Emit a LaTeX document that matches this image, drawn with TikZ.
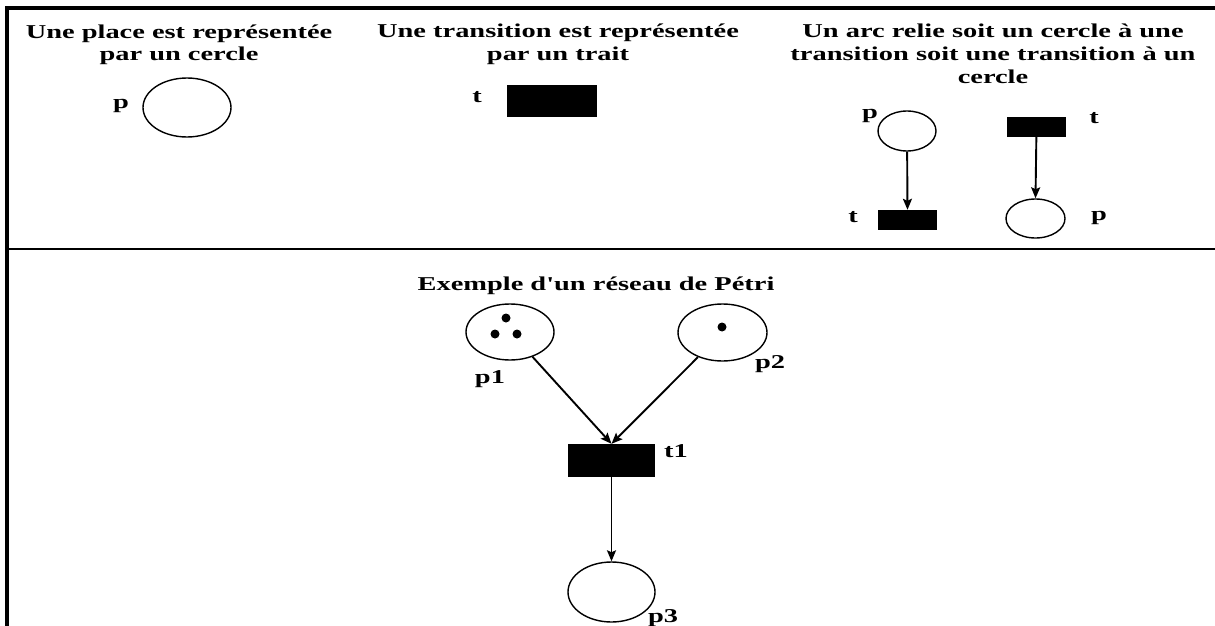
\documentclass[tikz,border=0pt]{standalone}
\usepackage{fontspec}
\newfontfamily\tfont{Liberation Serif}[FakeStretch=1.45]
\usetikzlibrary{shapes.geometric,arrows.meta}
\begin{document}
\begin{tikzpicture}[x=1pt,y=-1pt,
  txt/.style={font=\tfont\bfseries\fontsize{19.6}{22.5}\selectfont,inner sep=0pt,align=center,anchor=base},
  lbl/.style={font=\tfont\bfseries\fontsize{19.6}{22.5}\selectfont,inner sep=0pt,anchor=base},
  place/.style={draw,line width=1.4pt,ellipse,inner sep=0pt},
  trans/.style={fill=black,draw=none,rectangle,inner sep=0pt},
  token/.style={fill=black,circle,inner sep=0pt,minimum size=9pt},
  arr/.style={line width=1.9pt,-{Stealth[length=11pt,width=9pt,inset=2pt]}},
  frame/.style={line width=3.2pt}]
\useasboundingbox (0,0) rectangle (1215,626);
% frame
\draw[frame] (7,626) -- (7,8) -- (1215,8);
\draw[line width=2.2pt] (7,249) -- (1215,249);
% titles (base = last line)
\node[txt] (h1) at (179,61) {Une place est représentée\\par un cercle};
\node[txt] (h2) at (558,60) {Une transition est représentée\\par un trait};
\node[txt] (h3) at (993,83) {Un arc relie soit un cercle à une\\transition soit une transition à un\\cercle};
% panel 1
\node[place,minimum width=88pt,minimum height=59pt] (P) at (187,107.5) {};
\node[lbl] (Pl) at (121,108) {p};
% panel 2
\node[trans,minimum width=90pt,minimum height=32pt] (T) at (552,101) {};
\node[lbl] (Tl) at (477,102) {t};
% panel 3
\node[place,minimum width=58pt,minimum height=40pt] (P3a) at (907,131) {};
\node[lbl] (P3al) at (870,118) {p};
\node[trans,minimum width=59pt,minimum height=20pt] (T3a) at (907.5,220) {};
\node[lbl] (T3al) at (853,222) {t};
\draw[arr] (P3a) -- (T3a.north);
\node[trans,minimum width=59pt,minimum height=20pt] (T3b) at (1036.5,127) {};
\node[lbl] (T3bl) at (1094,123) {t};
\node[place,minimum width=59pt,minimum height=39pt] (P3b) at (1035.5,218.5) {};
\node[lbl] (P3bl) at (1099,220) {p};
\draw[arr] (T3b) -- (P3b.north);
% example
\node[txt] (ex) at (596,290) {Exemple d'un réseau de Pétri};
\node[place,minimum width=88pt,minimum height=56pt] (p1) at (510,332) {};
\node[token] (k1) at (506,318) {};
\node[token] (k2) at (495,334) {};
\node[token] (k3) at (517,334) {};
\node[lbl] (p1l) at (490,383) {p1};
\node[place,minimum width=89pt,minimum height=57pt] (p2) at (722.5,332.5) {};
\node[token] (k4) at (722,327) {};
\node[lbl] (p2l) at (770,368) {p2};
\node[trans,minimum width=87pt,minimum height=33pt] (t1) at (611.5,460.5) {};
\node[lbl] (t1l) at (676,457) {t1};
\node[place,minimum width=87pt,minimum height=60pt] (p3) at (611.5,592) {};
\node[lbl] (p3l) at (663,622) {p3};
\draw[arr] (p1) -- (t1.north);
\draw[arr] (p2) -- (t1.north);
\draw[arr] (t1) -- (p3.north);
\end{tikzpicture}
\end{document}
